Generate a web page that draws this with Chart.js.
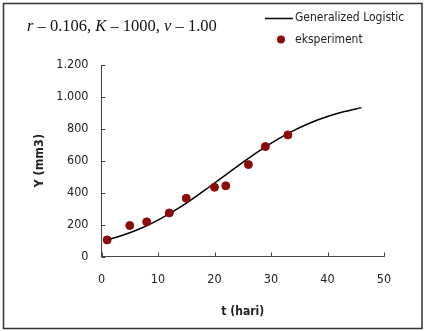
<!DOCTYPE html>
<html>
<head>
<meta charset="utf-8">
<script src="https://cdn.jsdelivr.net/npm/chart.js@4.4.1/dist/chart.umd.min.js"></script>
<style>
  html, body { margin: 0; padding: 0; background: #fff; }
  canvas { display: block; }
</style>
</head>
<body>
<canvas id="growth-chart" width="425" height="331"></canvas>
<script>
// experiment points (t in days, volume in mm3)
var dayExp = [1, 5, 8, 12, 15, 20, 22, 26, 29, 33];
var volExp = [104, 194, 217, 273, 365, 434, 443, 576, 689, 762];

// fitted generalized logistic curve
var dayModel = [1, 4, 7, 10, 13, 16, 19, 22, 25, 28, 31, 34, 37, 40, 43, 46];
var volModel = [104, 136, 177, 228, 289, 358, 434, 512, 590, 664, 731, 789, 838, 877, 908, 933];

var xTicks = [0, 10, 20, 30, 40, 50];
var yTicks = [0, 200, 400, 600, 800, 1000, 1200];
var yTickLabels = ["0", "200", "400", "600", "800", "1.000", "1.200"];

var seriesNames = ["Generalized Logistic", "eksperiment"];
var titleParts = [["r", true], [" \u2013 0.106, ", false], ["K", true], [" \u2013 1000, ", false], ["v", true], [" \u2013 1.00", false]];

var narrow = '"Liberation Sans Narrow", "DejaVu Sans Condensed", "Arial Narrow", sans-serif';
var serif = '"Liberation Serif", "Times New Roman", serif';
var dotColor = "#8b0a0a";
var axisColor = "#444";

function toPoints(xs, ys) {
    return xs.map(function (x, i) { return { x: x, y: ys[i] }; });
}

var framePlugin = {
    id: "frame",
    beforeDraw: function (chart) {
        var ctx = chart.ctx;
        ctx.save();
        ctx.fillStyle = "#fff";
        ctx.fillRect(0, 0, chart.width, chart.height);
        ctx.strokeStyle = "#333";
        ctx.lineWidth = 1.5;
        ctx.strokeRect(3.5, 3.5, 418.5, 325);
        ctx.restore();
    },
    afterDraw: function (chart) {
        var ctx = chart.ctx;
        var xs = chart.scales.x, ys = chart.scales.y;
        var area = chart.chartArea;
        ctx.save();

        // tick marks pointing into the plot
        ctx.strokeStyle = axisColor;
        ctx.lineWidth = 1;
        ctx.beginPath();
        xTicks.forEach(function (v) {
            var px = Math.round(xs.getPixelForValue(v)) + 0.5;
            ctx.moveTo(px, area.bottom);
            ctx.lineTo(px, area.bottom - 4);
        });
        yTicks.forEach(function (v) {
            var py = Math.round(ys.getPixelForValue(v)) + 0.5;
            ctx.moveTo(area.left, py);
            ctx.lineTo(area.left + 4, py);
        });
        ctx.stroke();

        // parameter text
        var x = 27;
        ctx.fillStyle = "#111";
        ctx.textBaseline = "alphabetic";
        titleParts.forEach(function (p) {
            ctx.font = (p[1] ? "italic " : "") + "16.5px " + serif;
            ctx.fillText(p[0], x, 31);
            x += ctx.measureText(p[0]).width;
        });

        // legend
        var line = chart.data.datasets[1];
        ctx.strokeStyle = line.borderColor;
        ctx.lineWidth = line.borderWidth;
        ctx.beginPath();
        ctx.moveTo(265, 18.5);
        ctx.lineTo(293, 18.5);
        ctx.stroke();
        ctx.fillStyle = dotColor;
        ctx.beginPath();
        ctx.arc(281, 39.5, 4, 0, Math.PI * 2);
        ctx.fill();
        ctx.fillStyle = "#222";
        ctx.font = "12px " + narrow;
        ctx.textBaseline = "middle";
        ctx.fillText(seriesNames[0], 295, 18);
        ctx.fillText(seriesNames[1], 295, 39.5);
        ctx.restore();
    }
};

var chart = new Chart(document.getElementById("growth-chart").getContext("2d"), {
    type: "scatter",
    data: {
        datasets: [{
            label: seriesNames[1],
            data: toPoints(dayExp, volExp),
            backgroundColor: dotColor,
            borderColor: dotColor,
            pointRadius: 4,
            showLine: false
        }, {
            label: seriesNames[0],
            data: toPoints(dayModel, volModel),
            showLine: true,
            borderColor: "#000",
            borderWidth: 1.5,
            pointRadius: 0,
            cubicInterpolationMode: "monotone",
            fill: false
        }]
    },
    options: {
        responsive: false,
        animation: false,
        layout: { padding: { left: 0, right: 41, top: 65, bottom: 0 } },
        plugins: {
            legend: { display: false },
            tooltip: { enabled: false }
        },
        scales: {
            x: {
                type: "linear",
                min: 0,
                max: 50,
                afterBuildTicks: function (scale) {
                    scale.ticks = xTicks.map(function (v) { return { value: v }; });
                },
                ticks: { color: "#222", padding: 16, font: { family: narrow, size: 12.5 } },
                grid: { display: false, drawTicks: false },
                border: { color: axisColor, width: 1 },
                title: {
                    display: true,
                    text: "t (hari)",
                    color: "#222",
                    font: { family: narrow, size: 12, weight: "bold" },
                    padding: { top: 0, bottom: 12 }
                },
                afterFit: function (scale) { scale.height = 74.5; }
            },
            y: {
                min: 0,
                max: 1200,
                afterBuildTicks: function (scale) {
                    scale.ticks = yTicks.map(function (v) { return { value: v }; });
                },
                ticks: {
                    color: "#222",
                    padding: 13,
                    font: { family: narrow, size: 12.5 },
                    callback: function (value) { return yTickLabels[yTicks.indexOf(value)]; }
                },
                grid: { display: false, drawTicks: false },
                border: { color: axisColor, width: 1 },
                title: {
                    display: true,
                    text: "Y (mm3)",
                    color: "#222",
                    font: { family: narrow, size: 12.5, weight: "bold" },
                    padding: { top: 32, bottom: 0 }
                },
                afterFit: function (scale) { scale.width = 101.5; }
            }
        }
    },
    plugins: [framePlugin]
});
</script>
</body>
</html>
